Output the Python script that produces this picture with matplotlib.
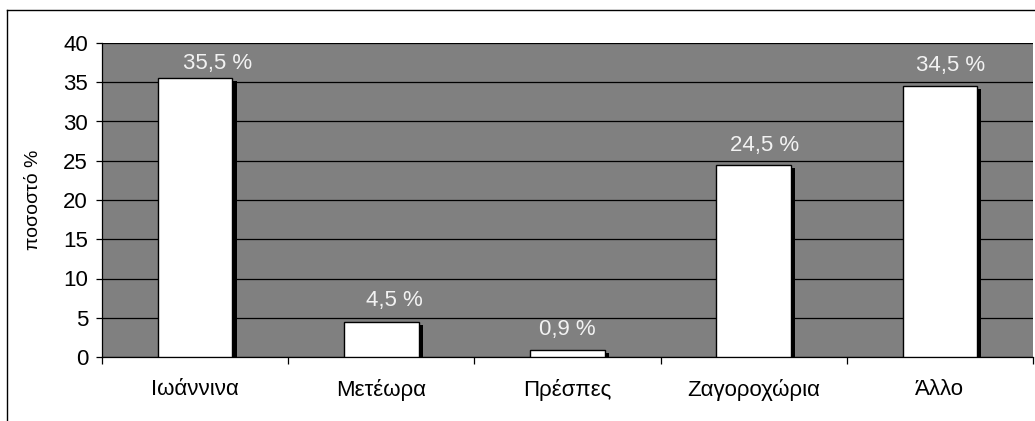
import matplotlib
matplotlib.use("Agg")
import matplotlib.pyplot as plt
import matplotlib.patheffects as pe
from matplotlib.lines import Line2D

categories = ["Ιωάννινα", "Μετέωρα", "Πρέσπες", "Ζαγοροχώρια", "Άλλο"]
values = [35.5, 4.5, 0.9, 24.5, 34.5]
labels = ["35,5 %", "4,5 %", "0,9 %", "24,5 %", "34,5 %"]
yticks = [0, 5, 10, 15, 20, 25, 30, 35, 40]

# manual data-label placement offsets (pixels), as in the original chart
label_dx = [22, 13, 0, 11, 11]
label_dy = [9, 16, 15, 14, 15]

plt.rcParams['font.family'] = ['Liberation Sans', 'DejaVu Sans']

W, H = 1035, 421
fig = plt.figure(figsize=(W / 100, H / 100), dpi=100)
fig.patch.set_facecolor('white')

left, right, top, bottom = 102, 1033, 43, 357
ax = fig.add_axes([left / W, 1 - bottom / H, (right - left) / W, (bottom - top) / H])
ax.set_facecolor('#808080')

x = list(range(len(categories)))
bars = ax.bar(x, values, width=0.40, color='white', edgecolor='black', linewidth=1.0, zorder=3)
for b in bars:
    b.set_path_effects([pe.SimplePatchShadow(offset=(3, -2.2), shadow_rgbFace='black', alpha=1.0), pe.Normal()])

for xi, v, lab, dx, dy in zip(x, values, labels, label_dx, label_dy):
    ax.annotate(lab, (xi, v), xytext=(dx, dy), textcoords='offset pixels', ha='center', va='baseline',
                color='#f2f2f2', fontsize=16, zorder=5)

ax.set_xlim(-0.5, 4.5)
ax.set_ylim(0, 40)
ax.set_yticks(yticks)
ax.set_yticklabels([str(t) for t in yticks], fontsize=16)
ax.yaxis.grid(True, color='black', linewidth=0.9, zorder=1)
ax.set_axisbelow(True)

ax.set_xticks(x)
ax.set_xticklabels(categories, fontsize=16)
ax.set_xticks([i - 0.5 for i in range(len(categories) + 1)], minor=True)
ax.tick_params(axis='x', which='major', length=0, pad=16)
ax.tick_params(axis='x', which='minor', length=5, width=0.9, color='black', direction='out')
ax.tick_params(axis='y', length=4, width=0.9, pad=6)

for s in ['top', 'right']:
    ax.spines[s].set_visible(False)
ax.spines['left'].set_linewidth(0.9)
ax.spines['bottom'].set_linewidth(0.9)

ax.set_ylabel("ποσοστό %", fontsize=14)
ax.yaxis.set_label_coords(-(left - 42) / (right - left), (bottom - 200) / (bottom - top))

# outer chart border (left and top edges visible)
fig.add_artist(Line2D([7 / W, 7 / W], [0, 1 - 10 / H], transform=fig.transFigure, color='black', linewidth=1.0))
fig.add_artist(Line2D([7 / W, 1], [1 - 10 / H, 1 - 10 / H], transform=fig.transFigure, color='black', linewidth=1.0))

fig.savefig("out.png", dpi=100)
